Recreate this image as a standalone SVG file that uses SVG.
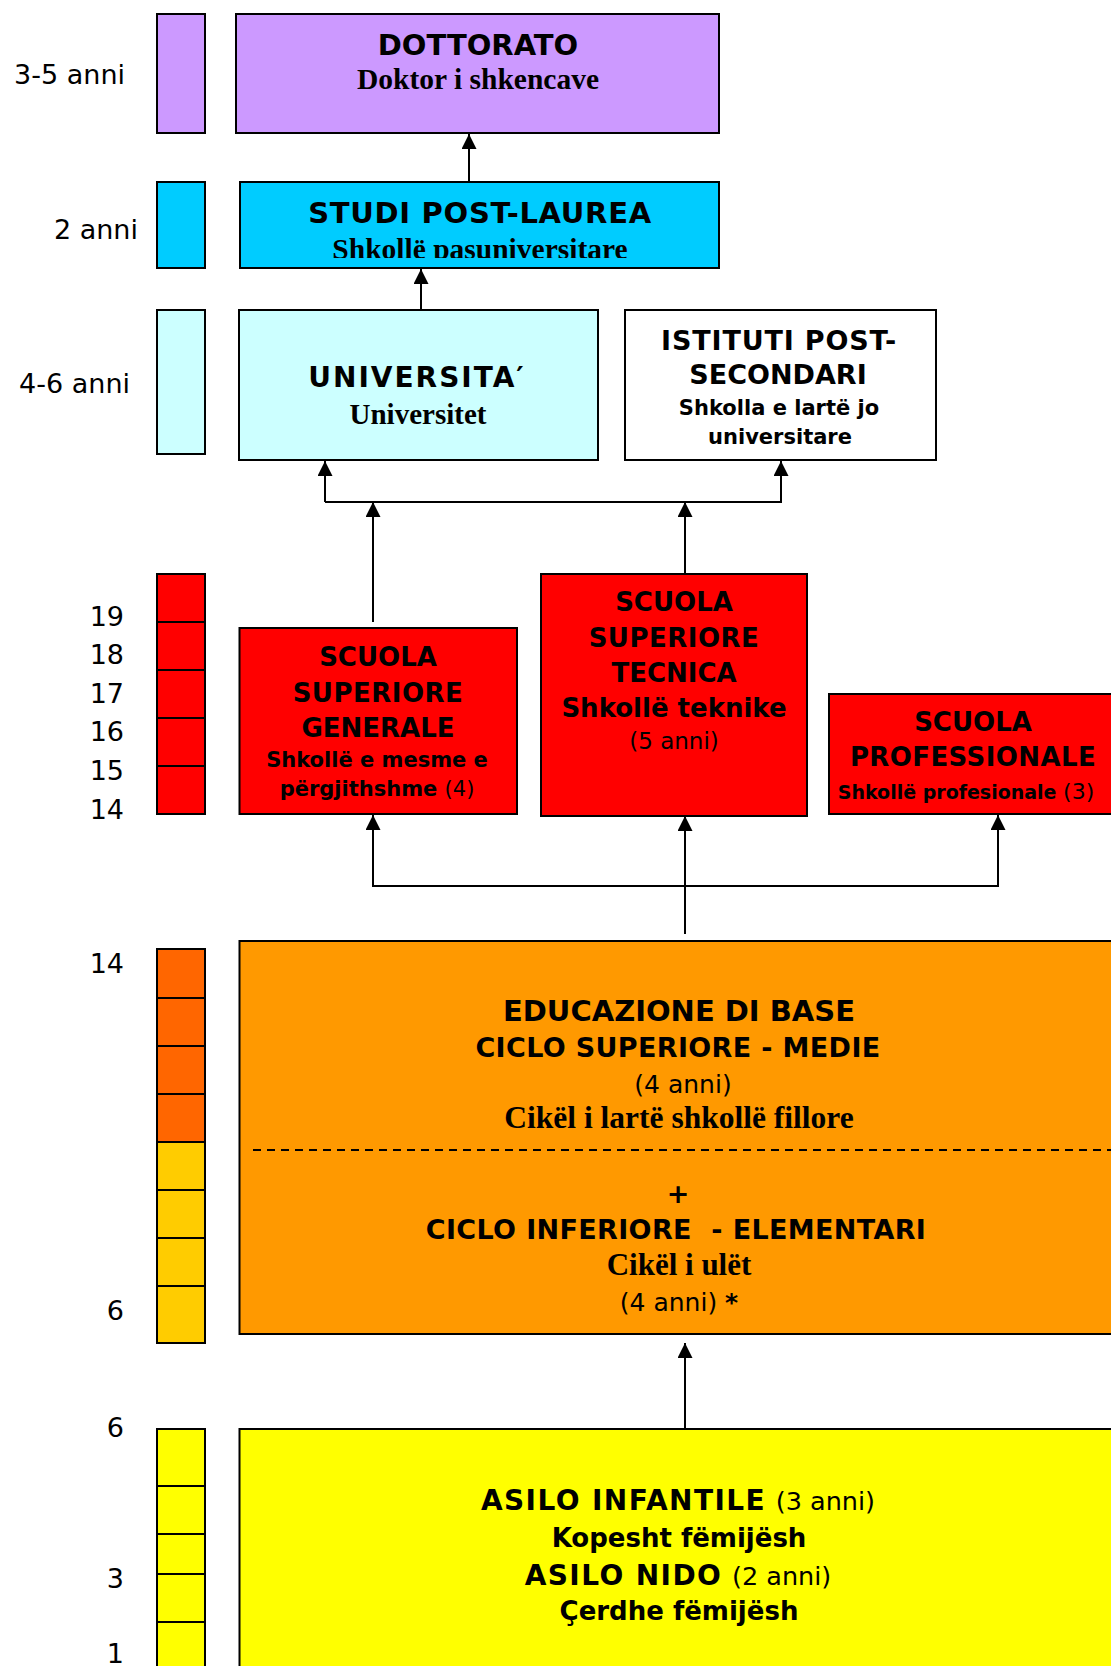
<svg xmlns="http://www.w3.org/2000/svg" width="1111" height="1666" viewBox="0 0 1111 1666">
<style>
.box{stroke:#000;stroke-width:2}
.bar{stroke:#000;stroke-width:2}
.div{stroke:#000;stroke-width:2}
.con{fill:none;stroke:#000;stroke-width:2}
.sb{font-family:"DejaVu Sans","Liberation Sans",sans-serif;font-weight:bold;text-anchor:middle;fill:#000}
.sr{font-family:"DejaVu Sans","Liberation Sans",sans-serif;font-weight:normal;fill:#000}
.tb{font-family:"Liberation Serif","Times New Roman",serif;font-weight:bold;text-anchor:middle;fill:#000}
.lab{font-family:"DejaVu Sans","Liberation Sans",sans-serif;font-size:27px;text-anchor:end;fill:#000}
</style>
<defs>
<marker id="ah" markerUnits="userSpaceOnUse" markerWidth="15" markerHeight="15" refX="15" refY="7.5" orient="auto">
<path d="M0,0 L15,7.5 L0,15 z" fill="#000"/>
</marker>
<clipPath id="clipStudi"><rect x="240" y="228" width="479" height="30"/></clipPath>
</defs>
<rect width="1111" height="1666" fill="#fff"/>

<g id="scale">
<rect class="bar" x="157" y="14" width="48" height="119" fill="#CC99FF"/>
<rect class="bar" x="157" y="182" width="48" height="86" fill="#00CCFF"/>
<rect class="bar" x="157" y="310" width="48" height="144" fill="#CCFFFF"/>
<rect class="bar" x="157" y="574" width="48" height="240" fill="#FF0000"/>
<line class="div" x1="157" y1="622" x2="205" y2="622"/>
<line class="div" x1="157" y1="670" x2="205" y2="670"/>
<line class="div" x1="157" y1="718" x2="205" y2="718"/>
<line class="div" x1="157" y1="766" x2="205" y2="766"/>
<rect class="bar" x="157" y="949" width="48" height="193" fill="#FF6600"/>
<rect class="bar" x="157" y="1142" width="48" height="201" fill="#FFCC00"/>
<line class="div" x1="157" y1="998" x2="205" y2="998"/>
<line class="div" x1="157" y1="1046" x2="205" y2="1046"/>
<line class="div" x1="157" y1="1094" x2="205" y2="1094"/>
<line class="div" x1="157" y1="1190" x2="205" y2="1190"/>
<line class="div" x1="157" y1="1238" x2="205" y2="1238"/>
<line class="div" x1="157" y1="1286" x2="205" y2="1286"/>
<rect class="bar" x="157" y="1429" width="48" height="260" fill="#FFFF00"/>
<line class="div" x1="157" y1="1486" x2="205" y2="1486"/>
<line class="div" x1="157" y1="1534" x2="205" y2="1534"/>
<line class="div" x1="157" y1="1574" x2="205" y2="1574"/>
<line class="div" x1="157" y1="1622" x2="205" y2="1622"/>
<text class="lab" x="125" y="84" font-size="29">3-5 anni</text>
<text class="lab" x="138" y="239" font-size="29">2 anni</text>
<text class="lab" x="130" y="393" font-size="29">4-6 anni</text>
<text class="lab" x="124" y="626">19</text>
<text class="lab" x="124" y="664">18</text>
<text class="lab" x="124" y="703">17</text>
<text class="lab" x="124" y="741">16</text>
<text class="lab" x="124" y="780">15</text>
<text class="lab" x="124" y="819">14</text>
<text class="lab" x="124" y="973">14</text>
<text class="lab" x="124" y="1320">6</text>
<text class="lab" x="124" y="1437">6</text>
<text class="lab" x="124" y="1588">3</text>
<text class="lab" x="124" y="1663">1</text>
</g>

<g id="connectors">
<line class="con" x1="469" y1="182" x2="469" y2="134" marker-end="url(#ah)"/>
<line class="con" x1="421" y1="310" x2="421" y2="269" marker-end="url(#ah)"/>
<polyline class="con" points="373,622 373,502" marker-end="url(#ah)"/>
<polyline class="con" points="685,574 685,502" marker-end="url(#ah)"/>
<polyline class="con" points="325,502 325,461" marker-end="url(#ah)"/>
<polyline class="con" points="325,502 781,502 781,461" marker-end="url(#ah)"/>
<polyline class="con" points="685,934 685,816" marker-end="url(#ah)"/>
<polyline class="con" points="685,886 373,886 373,815" marker-end="url(#ah)"/>
<polyline class="con" points="685,886 998,886 998,815" marker-end="url(#ah)"/>
<polyline class="con" points="685,1429 685,1343" marker-end="url(#ah)"/>
</g>

<g id="dottorato">
<rect class="box" x="236" y="14" width="483" height="119" fill="#CC99FF"/>
<text class="sb" x="478" y="55" font-size="29">DOTTORATO</text>
<text class="tb" x="478" y="89" font-size="29.5">Doktor i shkencave</text>
</g>

<g id="studi-post-laurea">
<rect class="box" x="240" y="182" width="479" height="86" fill="#00CCFF"/>
<text class="sb" x="480" y="223" font-size="29" letter-spacing="0.7">STUDI POST-LAUREA</text>
<text class="tb" x="480" y="259" font-size="29.5" clip-path="url(#clipStudi)">Shkollë pasuniversitare</text>
</g>

<g id="universita">
<rect class="box" x="239" y="310" width="359" height="150" fill="#CCFFFF"/>
<text class="sb" x="417" y="387" font-size="28" letter-spacing="2">UNIVERSITA′</text>
<text class="tb" x="418" y="424" font-size="29">Universitet</text>
</g>

<g id="istituti-post-secondari">
<rect class="box" x="625" y="310" width="311" height="150" fill="#FFFFFF"/>
<text class="sb" x="779" y="350" font-size="27" letter-spacing="0.85">ISTITUTI POST-</text>
<text class="sb" x="778" y="384" font-size="27">SECONDARI</text>
<text class="sb" x="779" y="415" font-size="21">Shkolla e lartë jo</text>
<text class="sb" x="780" y="444" font-size="21">universitare</text>
</g>

<g id="scuola-generale">
<rect class="box" x="239.5" y="628" width="277.5" height="186" fill="#FF0000"/>
<text class="sb" x="378" y="666" font-size="26">SCUOLA</text>
<text class="sb" x="378" y="702" font-size="26" letter-spacing="0.5">SUPERIORE</text>
<text class="sb" x="378" y="737" font-size="26">GENERALE</text>
<text class="sb" x="377" y="767" font-size="21">Shkollë e mesme e</text>
<text class="sb" x="377" y="796" font-size="21">përgjithshme <tspan font-weight="normal">(4)</tspan></text>
</g>

<g id="scuola-tecnica">
<rect class="box" x="541" y="574" width="266" height="242" fill="#FF0000"/>
<text class="sb" x="674" y="611" font-size="26">SCUOLA</text>
<text class="sb" x="674" y="647" font-size="26" letter-spacing="0.5">SUPERIORE</text>
<text class="sb" x="674" y="682" font-size="26">TECNICA</text>
<text class="sb" x="674" y="717" font-size="26">Shkollë teknike</text>
<text class="sr" x="674" y="749" font-size="23" text-anchor="middle">(5 anni)</text>
</g>

<g id="scuola-professionale">
<rect class="box" x="829" y="694" width="300" height="120" fill="#FF0000"/>
<text class="sb" x="973" y="731" font-size="26">SCUOLA</text>
<text class="sb" x="973" y="766" font-size="26" letter-spacing="0.4">PROFESSIONALE</text>
<text class="sb" x="966" y="799" font-size="19">Shkollë profesionale <tspan font-weight="normal" font-size="22">(3)</tspan></text>
</g>

<g id="educazione-di-base">
<rect class="box" x="239.5" y="941" width="890" height="393" fill="#FF9900"/>
<line x1="253" y1="1150" x2="1111" y2="1150" stroke="#000" stroke-width="2" stroke-dasharray="8,6"/>
<text class="sb" x="679" y="1021" font-size="29">EDUCAZIONE DI BASE</text>
<text class="sb" x="678" y="1057" font-size="27" letter-spacing="0.35">CICLO SUPERIORE - MEDIE</text>
<text class="sr" x="683" y="1093" font-size="25" text-anchor="middle">(4 anni)</text>
<text class="tb" x="679" y="1128" font-size="31.5">Cikël i lartë shkollë fillore</text>
<text class="sb" x="678" y="1203" font-size="27">+</text>
<text class="sb" x="676" y="1239" font-size="27" letter-spacing="0.35" xml:space="preserve">CICLO INFERIORE  - ELEMENTARI</text>
<text class="tb" x="679" y="1275" font-size="31">Cikël i ulët</text>
<text class="sr" x="679" y="1311" font-size="25" text-anchor="middle">(4 anni) <tspan font-weight="bold">*</tspan></text>
</g>

<g id="asilo">
<rect class="box" x="239.5" y="1429" width="890" height="260" fill="#FFFF00"/>
<text class="sb" x="678" y="1510" font-size="28"><tspan letter-spacing="1.4">ASILO INFANTILE</tspan> <tspan font-weight="normal" font-size="25.5">(3 anni)</tspan></text>
<text class="sb" x="679" y="1547" font-size="26">Kopesht fëmijësh</text>
<text class="sb" x="678" y="1585" font-size="28"><tspan letter-spacing="1.4">ASILO NIDO</tspan> <tspan font-weight="normal" font-size="25.5">(2 anni)</tspan></text>
<text class="sb" x="679" y="1620" font-size="26">Çerdhe fëmijësh</text>
</g>
</svg>
